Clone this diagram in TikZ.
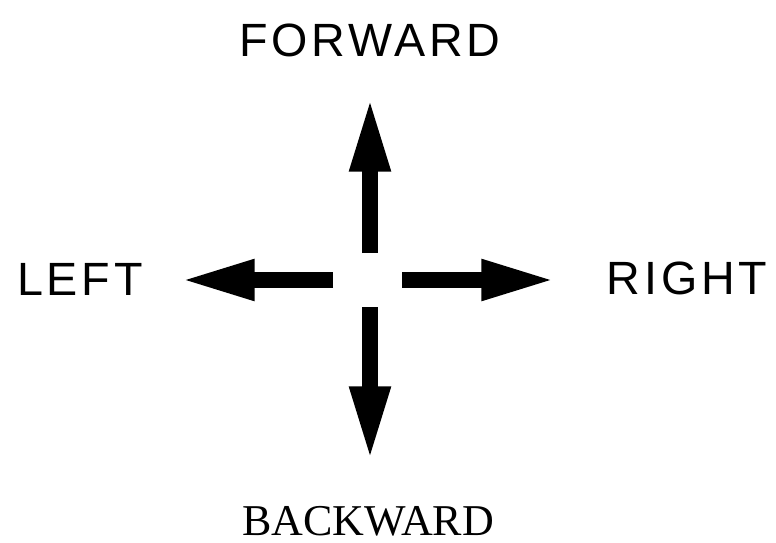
\documentclass[tikz,border=0pt]{standalone}
\usepackage{fontspec}
\newfontfamily\dirsans[LetterSpace=8]{Liberation Sans}
\newfontfamily\dirserif{Liberation Serif}
\usetikzlibrary{arrows.meta, positioning}

\begin{document}
\begin{tikzpicture}[x=0.75pt, y=-0.75pt,
        dirlabel/.style={inner sep=0pt, font=\dirsans\fontsize{35}{40}\selectfont},
        backlabel/.style={inner sep=0pt, font=\dirserif\fontsize{33}{38}\selectfont},
        bigarrow/.style={line width=11.6pt, -{Triangle[length=56pt, width=28pt]}}
    ]
        \useasboundingbox (0,0) rectangle (776,543);

        \coordinate (c) at (370,280);
        \coordinate (uptail) at (370,253);
        \coordinate (uptip) at (370,97);
        \coordinate (downtail) at (370,307);
        \coordinate (downtip) at (370,461);
        \coordinate (lefttail) at (333,280);
        \coordinate (lefttip) at (180,280);
        \coordinate (righttail) at (402,280);
        \coordinate (righttip) at (556,280);

        \node[dirlabel] (fwd) at (370,40) {FORWARD};
        \node[dirlabel] (lft) at (80,279) {LEFT};
        \node[dirlabel] (rgt) at (687,278) {RIGHT};
        \node[backlabel] (bwd) at (368,521) {BACKWARD};

        \draw[bigarrow] (uptail) -- (uptip);
        \draw[bigarrow] (downtail) -- (downtip);
        \draw[bigarrow] (lefttail) -- (lefttip);
        \draw[bigarrow] (righttail) -- (righttip);
    \end{tikzpicture}
\end{document}
